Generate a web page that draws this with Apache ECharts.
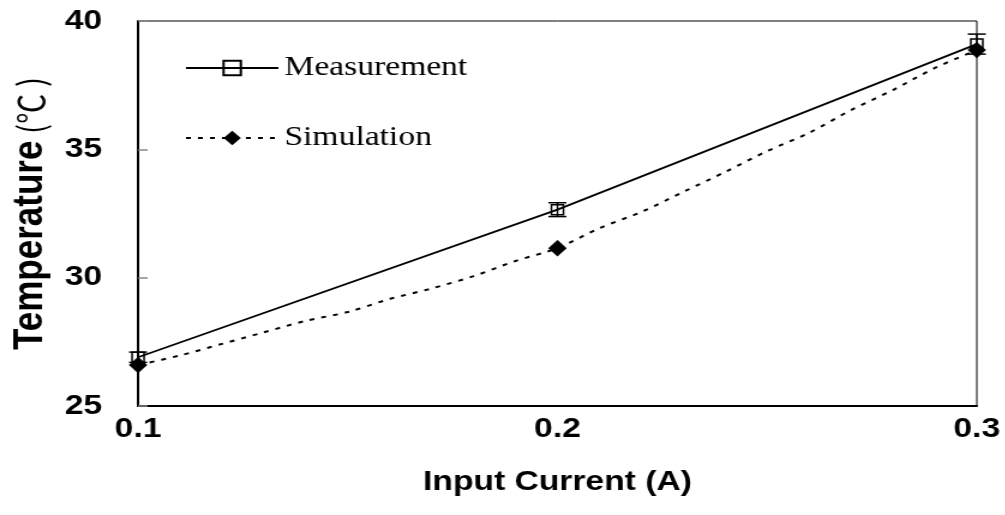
<!DOCTYPE html>
<html>
<head>
<meta charset="utf-8">
<script src="https://cdn.jsdelivr.net/npm/echarts@6/dist/echarts.min.js"></script>
<style>
  html, body { margin: 0; padding: 0; background: #fff; overflow: hidden; }
  /* the figure is drawn narrow and widened horizontally, like a stretched plot */
  #chart { width: 838px; height: 515px; transform: scaleX(1.2); transform-origin: 0 0; }
</style>
</head>
<body>
<div id="chart"></div>
<script>
// Measured temperature at each input current, with its error bar half-width
const measCurrent = [0.1, 0.2, 0.3];
const measTemp = [26.9, 32.65, 39.1];
const measErr = [0.2, 0.27, 0.39];

// Simulated temperature curve (markers only at 0.1, 0.2 and 0.3 A)
const simCurrent = [0.10, 0.11, 0.12, 0.13, 0.14, 0.15, 0.16, 0.17, 0.18, 0.19, 0.20,
                    0.21, 0.22, 0.23, 0.24, 0.25, 0.26, 0.27, 0.28, 0.29, 0.30];
const simTemp = [26.6, 26.97, 27.42, 27.87, 28.32, 28.66, 29.17, 29.58, 30.06, 30.65, 31.15,
                 31.93, 32.56, 33.34, 34.12, 34.93, 35.64, 36.53, 37.31, 38.17, 38.87];
const simMarked = [0.1, 0.2, 0.3];

const xTicks = ['0.1', '0.2', '0.3'];
const yTicks = ['25', '30', '35', '40'];

const chart = echarts.init(document.getElementById('chart'));

const measData = measCurrent.map((x, i) => [x, measTemp[i]]);
const errData = measCurrent.map((x, i) => [x, measTemp[i] - measErr[i], measTemp[i] + measErr[i]]);
const simData = simCurrent.map((x, i) => {
  const marked = simMarked.some(m => Math.abs(m - x) < 1e-9);
  return marked ? { value: [x, simTemp[i]] } : { value: [x, simTemp[i]], symbol: 'none' };
});

const labelFont = { fontFamily: 'Liberation Sans, Arial, sans-serif', fontWeight: 'bold', color: '#000' };

chart.setOption({
  animation: false,
  backgroundColor: '#fff',
  grid: { left: 115, right: 24, top: 21, bottom: 109, show: true, borderColor: '#000', borderWidth: 1 },
  legend: {
    orient: 'vertical',
    left: 154,
    top: 54,
    padding: 0,
    itemWidth: 77,
    itemHeight: 18,
    itemGap: 42,
    textStyle: { fontFamily: 'Liberation Serif, Times New Roman, serif', fontSize: 28, color: '#000' },
    data: ['Measurement', 'Simulation']
  },
  xAxis: {
    type: 'value',
    min: 0.1,
    max: 0.3,
    interval: 0.1,
    name: 'Input Current (A)',
    nameLocation: 'middle',
    nameGap: 62,
    nameTextStyle: Object.assign({ fontSize: 28 }, labelFont),
    axisLine: { show: true, lineStyle: { color: '#000', width: 2 } },
    axisTick: { show: false },
    splitLine: { show: false },
    axisLabel: Object.assign({
      fontSize: 28,
      margin: 9,
      formatter: v => xTicks[Math.round((v - 0.1) / 0.1)] || ''
    }, labelFont)
  },
  yAxis: {
    type: 'value',
    min: 25,
    max: 40,
    interval: 5,
    name: '{b|Temperature}{n| (℃ )}',
    nameLocation: 'middle',
    nameGap: 72,
    nameTextStyle: {
      rich: {
        b: { fontFamily: 'Liberation Sans, Arial, sans-serif', fontWeight: 'bold', fontSize: 35, color: '#000' },
        n: { fontFamily: 'Noto Sans CJK SC, sans-serif', fontWeight: 'normal', fontSize: 30, color: '#000' }
      }
    },
    axisLine: { show: true, lineStyle: { color: '#000', width: 2 } },
    axisTick: { show: true, inside: true, length: 8, lineStyle: { color: '#888', width: 1.5 } },
    splitLine: { show: false },
    axisLabel: Object.assign({
      fontSize: 28,
      margin: 30,
      formatter: v => yTicks[Math.round((v - 25) / 5)] || ''
    }, labelFont)
  },
  series: [
    {
      name: 'Measurement',
      type: 'line',
      data: measData,
      symbol: 'rect',
      symbolSize: [10, 10],
      lineStyle: { color: '#000', width: 1.8 },
      itemStyle: { color: 'rgba(255,255,255,0)', borderColor: '#000', borderWidth: 1.5 },
      z: 3
    },
    {
      name: 'MeasurementError',
      type: 'custom',
      data: errData,
      z: 4,
      renderItem: (params, api) => {
        const x = api.value(0);
        const lo = api.coord([x, api.value(1)]);
        const hi = api.coord([x, api.value(2)]);
        const cap = 7.5;
        const style = { stroke: '#000', lineWidth: 1.5, fill: null };
        return {
          type: 'group',
          children: [
            { type: 'line', shape: { x1: lo[0], y1: lo[1], x2: hi[0], y2: hi[1] }, style },
            { type: 'line', shape: { x1: lo[0] - cap, y1: lo[1], x2: lo[0] + cap, y2: lo[1] }, style },
            { type: 'line', shape: { x1: hi[0] - cap, y1: hi[1], x2: hi[0] + cap, y2: hi[1] }, style }
          ]
        };
      }
    },
    {
      name: 'Simulation',
      type: 'line',
      data: simData,
      smooth: 0.3,
      symbol: 'diamond',
      symbolSize: [14, 15],
      lineStyle: { color: '#000', width: 2, type: [4, 6] },
      itemStyle: { color: '#000', borderColor: '#000' },
      z: 5
    }
  ]
});
</script>
</body>
</html>
